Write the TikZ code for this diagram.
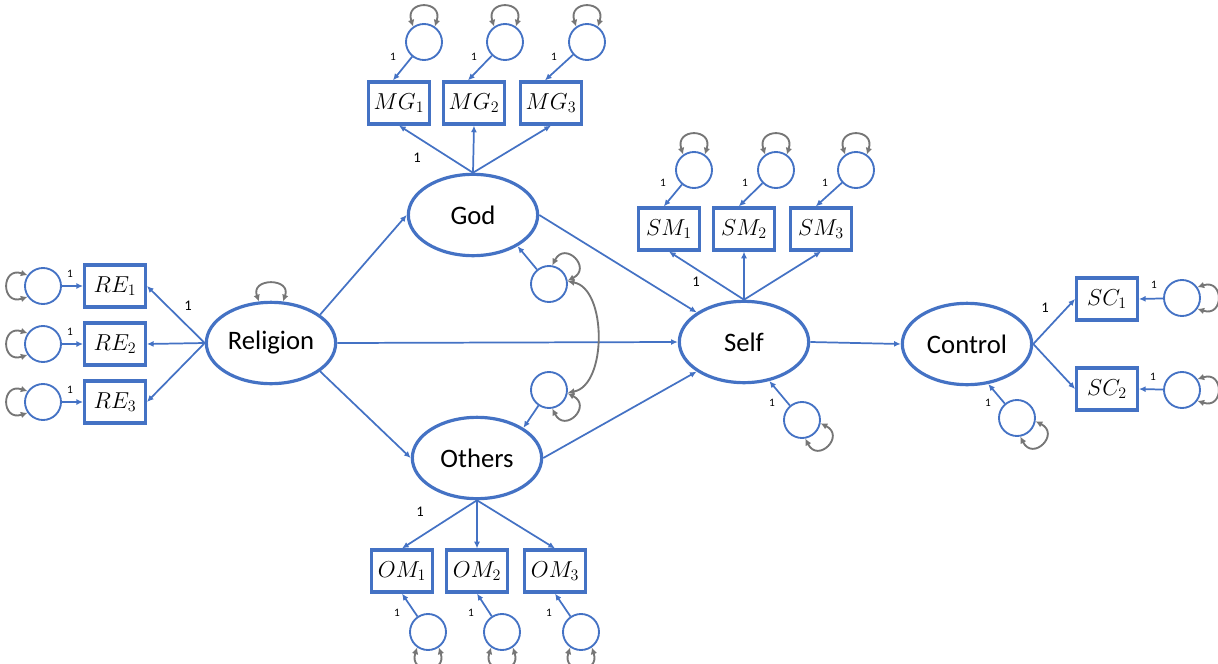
\documentclass[tikz,border=0pt]{standalone}
\usepackage{fontspec}
\setmainfont{Carlito}
\usetikzlibrary{arrows.meta,calc,shapes.geometric}
\definecolor{sblue}{HTML}{4472C4}
\definecolor{sgray}{HTML}{767676}
\tikzset{
 lat/.style={ellipse, draw=sblue, line width=2.4pt, minimum width=97pt, minimum height=61pt, inner sep=0pt, font=\fontsize{20}{23}\selectfont},
 obs/.style={rectangle, draw=sblue, line width=2.4pt, minimum width=45.5pt, minimum height=31.5pt, inner sep=0pt, font=\fontsize{17.28}{20}\selectfont},
 err/.style={circle, draw=sblue, line width=1.4pt, minimum size=27pt, inner sep=0pt},
 conn/.style={draw=sblue, line width=1.3pt, -{Latex[length=5pt,width=4.5pt]}},
 loopst/.style={draw=sgray, line width=1.4pt, {Latex[length=5pt,width=5pt]}-{Latex[length=5pt,width=5pt]}},
 lbl/.style={font=\fontsize{11}{12}\selectfont, inner sep=0pt},
 slbl/.style={font=\fontsize{8.5}{10}\selectfont, inner sep=0pt},
}
\newcommand\myselfloop[2]{\draw[loopst] ($(#1.center)+({#2-35}:14.2pt)$) .. controls +({#2-18}:21pt) and +({#2+18}:21pt) .. ($(#1.center)+({#2+35}:14.2pt)$);}
\begin{document}
\begin{tikzpicture}[x=0.75pt,y=-0.75pt]
\path[use as bounding box] (0,0) rectangle (1218,664);
% latent
\node[lat] (Rel) at (271,343) {Religion};
\node[lat] (God) at (473,215) {God};
\node[lat] (Oth) at (477,458) {Others};
\node[lat] (Self) at (744,342) {Self};
\node[lat] (Ctrl) at (967,344) {Control};
% indicators
\node[obs] (RE1) at (115,286) {$RE_1$};
\node[obs] (RE2) at (115,344) {$RE_2$};
\node[obs] (RE3) at (115,402) {$RE_3$};
\node[obs] (MG1) at (399,103) {$MG_1$};
\node[obs] (MG2) at (474,103) {$MG_2$};
\node[obs] (MG3) at (551,103) {$MG_3$};
\node[obs] (SM1) at (669,229) {$SM_1$};
\node[obs] (SM2) at (744,229) {$SM_2$};
\node[obs] (SM3) at (821,229) {$SM_3$};
\node[obs] (OM1) at (402,571) {$OM_1$};
\node[obs] (OM2) at (477,571) {$OM_2$};
\node[obs] (OM3) at (555,571) {$OM_3$};
\node[obs] (SC1) at (1107,299) {$SC_1$};
\node[obs] (SC2) at (1107,389) {$SC_2$};
% errors
\node[err] (ere1) at (43,286) {};
\node[err] (ere2) at (43,344) {};
\node[err] (ere3) at (43,402) {};
\node[err] (emg1) at (424,42) {};
\node[err] (emg2) at (505,42) {};
\node[err] (emg3) at (587,42) {};
\node[err] (esm1) at (694,170) {};
\node[err] (esm2) at (776,170) {};
\node[err] (esm3) at (856,170) {};
\node[err] (eom1) at (428,632) {};
\node[err] (eom2) at (502,632) {};
\node[err] (eom3) at (581,632) {};
\node[err] (esc1) at (1182,298) {};
\node[err] (esc2) at (1182,390) {};
\node[err] (egod) at (549,284) {};
\node[err] (eoth) at (549,390) {};
\node[err] (eself) at (802,420) {};
\node[err] (ectrl) at (1017,418) {};
% structural paths
\draw[conn] (Rel.30) -- (God.west);
\draw[conn] (Rel.-30) -- (Oth.west);
\draw[conn] (Rel.east) -- (Self.west);
\draw[conn] (God.east) -- (Self.148);
\draw[conn] (Oth.east) -- (Self.212);
\draw[conn] (Self.east) -- (Ctrl.west);
% loadings
\draw[conn] (Rel.west) -- (RE1.east);
\draw[conn] (Rel.west) -- (RE2.east);
\draw[conn] (Rel.west) -- (RE3.east);
\draw[conn] (God.north) -- (MG1.south);
\draw[conn] (God.north) -- (MG2.south);
\draw[conn] (God.north) -- (MG3.south);
\draw[conn] (Self.north) -- (SM1.south);
\draw[conn] (Self.north) -- (SM2.south);
\draw[conn] (Self.north) -- (SM3.south);
\draw[conn] (Oth.south) -- (OM1.north);
\draw[conn] (Oth.south) -- (OM2.north);
\draw[conn] (Oth.south) -- (OM3.north);
\draw[conn] (Ctrl.east) -- (SC1.west);
\draw[conn] (Ctrl.east) -- (SC2.west);
% error paths
\draw[conn] (ere1) -- (RE1.west);
\draw[conn] (ere2) -- (RE2.west);
\draw[conn] (ere3) -- (RE3.west);
\draw[conn] (emg1) -- (MG1.105);
\draw[conn] (emg2) -- (MG2.105);
\draw[conn] (emg3) -- (MG3.105);
\draw[conn] (esm1) -- (SM1.103);
\draw[conn] (esm2) -- (SM2.103);
\draw[conn] (esm3) -- (SM3.103);
\draw[conn] (eom1) -- (OM1.south);
\draw[conn] (eom2) -- (OM2.south);
\draw[conn] (eom3) -- (OM3.south);
\draw[conn] (esc1) -- (SC1.east);
\draw[conn] (esc2) -- (SC2.east);
\draw[conn] (egod) -- (God.-35);
\draw[conn] (eoth) -- (Oth.33);
\draw[conn] (eself) -- (Self.-57);
\draw[conn] (ectrl) -- (Ctrl.-62);
% variance loops
\myselfloop{ere1}{180}
\myselfloop{ere2}{180}
\myselfloop{ere3}{180}
\myselfloop{emg1}{90}
\myselfloop{emg2}{90}
\myselfloop{emg3}{90}
\myselfloop{esm1}{90}
\myselfloop{esm2}{90}
\myselfloop{esm3}{90}
\myselfloop{eom1}{-90}
\myselfloop{eom2}{-90}
\myselfloop{eom3}{-90}
\myselfloop{esc1}{0}
\myselfloop{esc2}{0}
\myselfloop{egod}{45}
\myselfloop{eoth}{-45}
\myselfloop{eself}{-45}
\myselfloop{ectrl}{-45}
\draw[loopst] ($(Rel.north)+(-9pt,-0.5pt)$) .. controls +(110:19pt) and +(70:19pt) .. ($(Rel.north)+(9pt,-0.5pt)$);
% covariance
\draw[loopst] ($(egod.center)+(8:14.2pt)$) .. controls +(-10:30pt) and +(10:30pt) .. ($(eoth.center)+(-8:14.2pt)$);
% labels
\node[slbl] (l1) at (70,274) {1};
\node[slbl] (l2) at (70,332) {1};
\node[slbl] (l3) at (70,390) {1};
\node[slbl] (l4) at (393,57) {1};
\node[slbl] (l5) at (474,57) {1};
\node[slbl] (l6) at (554,57) {1};
\node[slbl] (l7) at (663,183) {1};
\node[slbl] (l8) at (745,183) {1};
\node[slbl] (l9) at (825,183) {1};
\node[slbl] (l10) at (1154,285) {1};
\node[slbl] (l11) at (1153,377) {1};
\node[slbl] (l12) at (397,613) {1};
\node[slbl] (l13) at (471,613) {1};
\node[slbl] (l14) at (549,613) {1};
\node[slbl] (l15) at (772,403) {1};
\node[slbl] (l16) at (988,403) {1};
\node[lbl] (l17) at (188,306) {1};
\node[lbl] (l18) at (417,158) {1};
\node[lbl] (l19) at (696,282) {1};
\node[lbl] (l20) at (1045,308) {1};
\node[lbl] (l21) at (420,512) {1};
\end{tikzpicture}
\end{document}
